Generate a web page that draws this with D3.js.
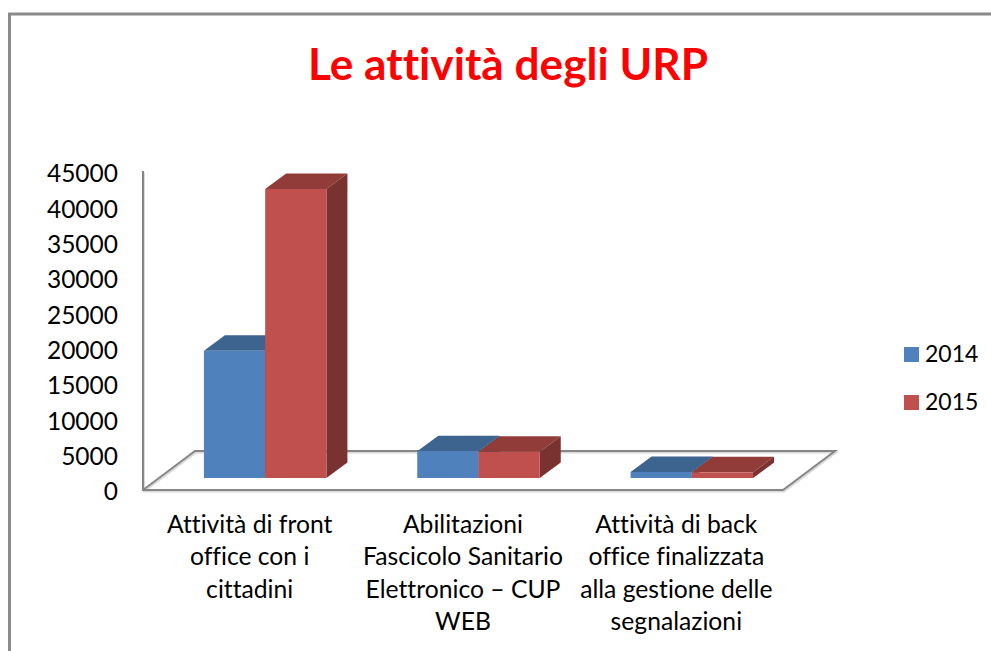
<!DOCTYPE html>
<html lang="en">
<head>
<meta charset="UTF-8">
<title>Le attività degli URP</title>
<script src="https://d3js.org/d3.v7.min.js"></script>
<style>
    html, body { margin: 0; padding: 0; background: #fff; }
    svg { display: block; font-family: Lato, "Open Sans", sans-serif; font-variant-ligatures: none; }
</style>
</head>
<body>
<div id="chart"></div>
<script>
const categories = ["front", "fse", "back"];
const categoryLines = [
    ["Attività di front", "office con i", "cittadini"],
    ["Abilitazioni", "Fascicolo Sanitario", "Elettronico – CUP", "WEB"],
    ["Attività di back", "office finalizzata", "alla gestione delle", "segnalazioni"]
];
const years = ["2014", "2015"];
const values2014 = [18000, 3800, 850];
const values2015 = [40900, 3700, 800];
const yTicks = [0, 5000, 10000, 15000, 20000, 25000, 30000, 35000, 40000, 45000];

const width = 991, height = 651;
const colors = {
    "2014": { front: "#4f81bd", top: "#3d638f", side: "#2f4d70" },
    "2015": { front: "#c0504d", top: "#923c3a", side: "#7a3230" }
};
const gray = "#868686";

const svg = d3.select("#chart").append("svg")
    .attr("width", width)
    .attr("height", height);

// page border, only top and left show in the picture
svg.append("path")
    .attr("d", "M9.5 651V14H991")
    .attr("fill", "none")
    .attr("stroke", "#8a8a8a")
    .attr("stroke-width", 3);

svg.append("text")
    .attr("x", 508)
    .attr("y", 80)
    .attr("text-anchor", "middle")
    .attr("font-size", 44.2)
    .attr("font-weight", 700)
    .attr("fill", "#ff0000")
    .text("Le attività degli URP");

const y = d3.scaleLinear().domain([0, 45000]).range([490, 172]);
const x = d3.scaleBand().domain(categories).range([143, 783]);
const series = d3.scaleBand().domain(years).range([0, 122.5]);

// floor and wall of the 3d box
const floorDepth = { dx: 52, dy: 39 };
const floor = d3.path();
floor.moveTo(x.range()[0], y(45000) - 1);
floor.lineTo(x.range()[0], y(0));
floor.lineTo(x.range()[1], y(0));
floor.lineTo(x.range()[1] + floorDepth.dx, y(0) - floorDepth.dy);
floor.lineTo(x.range()[0] + floorDepth.dx, y(0) - floorDepth.dy);
floor.lineTo(x.range()[0], y(0));

svg.append("path")
    .attr("d", floor.toString())
    .attr("transform", "translate(1,1.5)")
    .attr("fill", "none")
    .attr("stroke", "#d9d9d9")
    .attr("stroke-width", 2);
svg.append("path")
    .attr("d", floor.toString())
    .attr("fill", "none")
    .attr("stroke", gray)
    .attr("stroke-width", 2);

// y axis, labels only
const yAxis = d3.axisLeft(y).tickValues(yTicks).tickFormat(d3.format("d")).tickSize(0).tickPadding(0);
const yG = svg.append("g").attr("transform", "translate(118,2)").call(yAxis);
yG.select(".domain").remove();
yG.selectAll("text").attr("font-size", 24.5).attr("font-family", "Lato, 'Open Sans', sans-serif").attr("fill", "#000");

// bars sit inside the floor, shifted from the front edge
const barShift = { dx: 15.5, dy: 12 };
const barDepth = { dx: 21, dy: 15.5 };
const barBase = y(0) - barShift.dy;
const barHeight = v => y(0) - y(v);

const rows = categories.flatMap((c, i) => [
    { cat: c, year: "2014", value: values2014[i] },
    { cat: c, year: "2015", value: values2015[i] }
]);

const bars = svg.selectAll(".bar")
    .data(rows)
    .enter().append("g")
    .attr("class", "bar");

// x0 is the left of the front face, y0 its top
const x0 = d => x(d.cat) + (x.bandwidth() - series.range()[1]) / 2 + barShift.dx + series(d.year);
const y0 = d => barBase - barHeight(d.value);
const bw = series.bandwidth();

bars.append("path")
    .attr("d", d => `M${x0(d)} ${y0(d)}l${barDepth.dx} ${-barDepth.dy}h${bw}l${-barDepth.dx} ${barDepth.dy}z`)
    .attr("fill", d => colors[d.year].top);
bars.append("path")
    .attr("d", d => `M${x0(d) + bw} ${y0(d)}l${barDepth.dx} ${-barDepth.dy}V${barBase - barDepth.dy}l${-barDepth.dx} ${barDepth.dy}z`)
    .attr("fill", d => colors[d.year].side);
bars.append("rect")
    .attr("x", x0)
    .attr("y", y0)
    .attr("width", bw)
    .attr("height", d => barBase - y0(d))
    .attr("fill", d => colors[d.year].front);

// category labels, broken as in the picture
const labelG = svg.selectAll(".cat-label")
    .data(categories)
    .enter().append("text")
    .attr("class", "cat-label")
    .attr("text-anchor", "middle")
    .attr("font-size", 24.7)
    .attr("fill", "#000");
labelG.selectAll("tspan")
    .data((d, i) => categoryLines[i].map(t => ({ t, cat: d })))
    .enter().append("tspan")
    .attr("x", d => x(d.cat) + x.bandwidth() / 2)
    .attr("y", (d, i) => 533 + i * 32.3)
    .text(d => d.t);

// legend
const legend = svg.selectAll(".legend")
    .data(years)
    .enter().append("g")
    .attr("class", "legend")
    .attr("transform", (d, i) => `translate(904,${347 + i * 48})`);
legend.append("rect")
    .attr("width", 15)
    .attr("height", 15)
    .attr("fill", d => colors[d].front);
legend.append("text")
    .attr("x", 21)
    .attr("y", 15)
    .attr("font-size", 23)
    .attr("fill", "#000")
    .text(d => d);
</script>
</body>
</html>
